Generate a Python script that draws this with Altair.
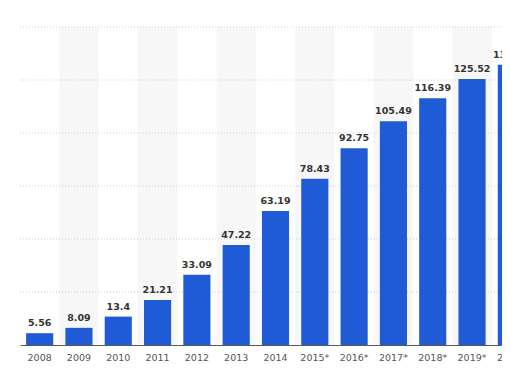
import altair as alt
import pandas as pd

years = ["2008", "2009", "2010", "2011", "2012", "2013", "2014",
         "2015*", "2016*", "2017*", "2018*", "2019*", "2020*"]
values = [5.56, 8.09, 13.4, 21.21, 33.09, 47.22, 63.19,
          78.43, 92.75, 105.49, 116.39, 125.52, 132.23]
labels = ["5.56", "8.09", "13.4", "21.21", "33.09", "47.22", "63.19",
          "78.43", "92.75", "105.49", "116.39", "125.52", "132.23"]
y_ticks = [0, 25, 50, 75, 100, 125, 150]
grid_values = [25, 50, 75, 100, 125, 150]

df = pd.DataFrame({
    "year": years,
    "value": values,
    "label": labels,
    "shade": [i % 2 == 1 for i in range(len(years))],
})
grid_df = pd.DataFrame({"value": grid_values})

BLUE = "#1f5bd4"
FONT = "DejaVu Sans"

xscale = alt.Scale(domain=years, paddingInner=0.31, paddingOuter=0.155)
yscale = alt.Scale(domain=[0, 150], nice=False, zero=True)

x_enc = alt.X("year:N", scale=xscale, sort=years,
              axis=alt.Axis(title=None, labelAngle=0, ticks=False, domainColor="#5a5a5a",
                            domainWidth=1, labelColor="#555555", labelFont=FONT,
                            labelFontSize=9.5, labelPadding=7, grid=False))
y_axis = alt.Axis(title=None, values=y_ticks, grid=False, domain=False, ticks=False,
                  labelColor="#555555", labelFont=FONT, labelFontSize=9.5,
                  labelPadding=13)

base = alt.Chart(df)

bands = base.transform_filter("datum.shade").transform_calculate(
    top="150"
).mark_bar(
    color="#f7f7f7", width=alt.RelativeBandSize(1 / 0.69)
).encode(
    x=x_enc,
    y=alt.Y("top:Q", scale=yscale, axis=y_axis),
)

grid = alt.Chart(grid_df).mark_rule(
    color="#cccccc", strokeDash=[1, 2], strokeWidth=1
).encode(y=alt.Y("value:Q", scale=yscale, axis=y_axis))

bars = base.mark_bar(color=BLUE).encode(
    x=x_enc,
    y=alt.Y("value:Q", scale=yscale, axis=y_axis),
)

text = base.mark_text(
    dy=-7, baseline="alphabetic", align="center", font=FONT, fontSize=9.5,
    fontWeight="bold", color="#333333"
).encode(
    x=x_enc,
    y=alt.Y("value:Q", scale=yscale, axis=y_axis),
    text="label:N",
)

chart = alt.layer(bands, grid, bars, text).properties(
    width=511, height=318,
    autosize=alt.AutoSizeParams(type="none"),
    padding={"left": 12, "top": 19, "right": -29, "bottom": 20},
).configure_view(stroke=None)

chart.save("out.html", embed_options={"renderer": "svg", "actions": False})
